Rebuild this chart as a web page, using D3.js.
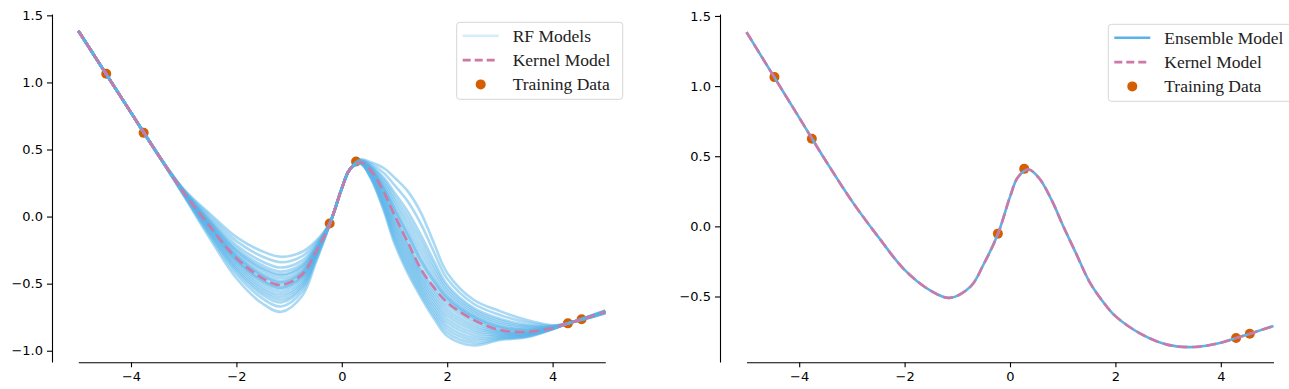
<!DOCTYPE html>
<html>
<head>
<meta charset="utf-8">
<script src="https://cdn.jsdelivr.net/npm/d3@7"></script>
<style>
  body { margin: 0; background: #fff; }
  svg { display: block; }
  .tick text { font-family: "DejaVu Sans", sans-serif; font-size: 13px; fill: #000; }
  .legend text { font-family: "Liberation Serif", serif; font-size: 17.5px; fill: #222; }
</style>
</head>
<body>
<svg width="1289" height="389"></svg>
<script>
// Shared x grid the curves were read at
const xGrid = [-5, -4.5, -4, -3.5, -3, -2.5, -2, -1.5, -1.15, -0.75, -0.5, -0.23, 0, 0.15, 0.35, 0.55, 0.8, 1.0, 1.25, 1.5, 1.75, 2, 2.5, 3, 3.5, 4, 4.3, 4.6, 5];

const kernelModel = [1.385, 1.08, 0.775, 0.47, 0.18, -0.075, -0.31, -0.46, -0.51, -0.43, -0.27, -0.055, 0.21, 0.35, 0.405, 0.345, 0.18, 0.01, -0.19, -0.39, -0.53, -0.64, -0.77, -0.845, -0.86, -0.83, -0.795, -0.76, -0.71];

const ensembleModel = [1.385, 1.08, 0.775, 0.47, 0.18, -0.075, -0.31, -0.46, -0.51, -0.43, -0.27, -0.055, 0.21, 0.35, 0.405, 0.345, 0.18, 0.01, -0.19, -0.39, -0.53, -0.64, -0.77, -0.845, -0.86, -0.83, -0.795, -0.76, -0.71];

// individual random-feature models (left panel)
const rfModels = [
  [1.385, 1.08, 0.775, 0.47, 0.205, 0.02, -0.153, -0.26, -0.30, -0.262, -0.186, -0.049, 0.21, 0.35, 0.402, 0.327, 0.138, -0.053, -0.259, -0.453, -0.599, -0.715, -0.827, -0.868, -0.872, -0.833, -0.795, -0.762, -0.713],
  [1.385, 1.08, 0.775, 0.47, 0.20, 0.002, -0.183, -0.299, -0.34, -0.294, -0.202, -0.05, 0.21, 0.35, 0.417, 0.381, 0.288, 0.178, 0.038, -0.138, -0.332, -0.508, -0.68, -0.761, -0.806, -0.818, -0.795, -0.757, -0.704],
  [1.385, 1.08, 0.775, 0.47, 0.196, -0.017, -0.213, -0.337, -0.38, -0.326, -0.218, -0.051, 0.21, 0.35, 0.40, 0.315, 0.11, -0.095, -0.305, -0.495, -0.645, -0.765, -0.865, -0.883, -0.88, -0.835, -0.795, -0.763, -0.715],
  [1.385, 1.08, 0.775, 0.47, 0.192, -0.03, -0.235, -0.365, -0.41, -0.35, -0.23, -0.052, 0.21, 0.35, 0.425, 0.405, 0.36, 0.29, 0.19, 0.03, -0.20, -0.42, -0.62, -0.705, -0.77, -0.81, -0.795, -0.755, -0.70],
  [1.385, 1.08, 0.775, 0.47, 0.188, -0.044, -0.258, -0.394, -0.44, -0.374, -0.242, -0.053, 0.21, 0.35, 0.409, 0.357, 0.216, 0.066, -0.114, -0.306, -0.464, -0.596, -0.74, -0.817, -0.842, -0.826, -0.795, -0.759, -0.708],
  [1.385, 1.08, 0.775, 0.47, 0.186, -0.053, -0.273, -0.413, -0.46, -0.39, -0.25, -0.054, 0.21, 0.35, 0.396, 0.291, 0.054, -0.179, -0.397, -0.579, -0.737, -0.865, -0.941, -0.913, -0.896, -0.839, -0.795, -0.765, -0.719],
  [1.385, 1.08, 0.775, 0.47, 0.184, -0.062, -0.288, -0.432, -0.48, -0.406, -0.258, -0.054, 0.21, 0.35, 0.413, 0.369, 0.252, 0.122, -0.038, -0.222, -0.398, -0.552, -0.71, -0.789, -0.824, -0.822, -0.795, -0.758, -0.706],
  [1.385, 1.08, 0.775, 0.47, 0.181, -0.07, -0.302, -0.45, -0.50, -0.422, -0.266, -0.055, 0.21, 0.35, 0.403, 0.333, 0.152, -0.032, -0.236, -0.432, -0.576, -0.69, -0.808, -0.86, -0.868, -0.832, -0.795, -0.761, -0.712],
  [1.385, 1.08, 0.775, 0.47, 0.179, -0.08, -0.318, -0.47, -0.52, -0.438, -0.274, -0.055, 0.21, 0.35, 0.421, 0.393, 0.324, 0.234, 0.114, -0.054, -0.266, -0.464, -0.65, -0.733, -0.788, -0.814, -0.795, -0.756, -0.702],
  [1.385, 1.08, 0.775, 0.47, 0.176, -0.089, -0.333, -0.489, -0.54, -0.454, -0.282, -0.056, 0.21, 0.35, 0.395, 0.285, 0.04, -0.20, -0.42, -0.60, -0.76, -0.89, -0.96, -0.92, -0.90, -0.84, -0.795, -0.765, -0.72],
  [1.385, 1.08, 0.775, 0.47, 0.174, -0.098, -0.348, -0.508, -0.56, -0.47, -0.29, -0.057, 0.21, 0.35, 0.407, 0.351, 0.198, 0.038, -0.152, -0.348, -0.497, -0.618, -0.755, -0.831, -0.851, -0.828, -0.795, -0.76, -0.709],
  [1.385, 1.08, 0.775, 0.47, 0.172, -0.107, -0.363, -0.527, -0.58, -0.486, -0.298, -0.057, 0.21, 0.35, 0.399, 0.309, 0.096, -0.116, -0.328, -0.516, -0.668, -0.79, -0.884, -0.89, -0.884, -0.836, -0.795, -0.763, -0.716],
  [1.385, 1.08, 0.775, 0.47, 0.169, -0.116, -0.378, -0.546, -0.60, -0.502, -0.306, -0.058, 0.21, 0.35, 0.415, 0.375, 0.27, 0.15, 0.0, -0.18, -0.365, -0.53, -0.695, -0.775, -0.815, -0.82, -0.795, -0.758, -0.705],
  [1.385, 1.08, 0.775, 0.47, 0.167, -0.125, -0.393, -0.565, -0.62, -0.518, -0.314, -0.058, 0.21, 0.35, 0.401, 0.321, 0.124, -0.074, -0.282, -0.474, -0.622, -0.74, -0.846, -0.875, -0.876, -0.834, -0.795, -0.762, -0.714],
  [1.385, 1.08, 0.775, 0.47, 0.164, -0.134, -0.408, -0.584, -0.64, -0.534, -0.322, -0.059, 0.21, 0.35, 0.411, 0.363, 0.234, 0.094, -0.076, -0.264, -0.431, -0.574, -0.725, -0.803, -0.833, -0.824, -0.795, -0.759, -0.707],
  [1.385, 1.08, 0.775, 0.47, 0.161, -0.147, -0.43, -0.612, -0.67, -0.558, -0.334, -0.06, 0.21, 0.35, 0.398, 0.303, 0.082, -0.137, -0.351, -0.537, -0.691, -0.815, -0.903, -0.898, -0.888, -0.837, -0.795, -0.764, -0.717],
  [1.385, 1.08, 0.775, 0.47, 0.156, -0.165, -0.46, -0.65, -0.71, -0.59, -0.35, -0.061, 0.21, 0.35, 0.405, 0.345, 0.18, 0.01, -0.19, -0.39, -0.53, -0.64, -0.77, -0.845, -0.86, -0.83, -0.795, -0.76, -0.71],
  [1.385, 1.08, 0.775, 0.47, 0.182, -0.066, -0.295, -0.441, -0.49, -0.414, -0.262, -0.054, 0.21, 0.35, 0.408, 0.354, 0.207, 0.052, -0.133, -0.327, -0.481, -0.607, -0.748, -0.824, -0.847, -0.827, -0.795, -0.759, -0.709],
  [1.385, 1.08, 0.775, 0.47, 0.178, -0.084, -0.325, -0.479, -0.53, -0.446, -0.278, -0.056, 0.21, 0.35, 0.404, 0.339, 0.166, -0.011, -0.213, -0.411, -0.553, -0.665, -0.789, -0.853, -0.864, -0.831, -0.795, -0.761, -0.711],
  [1.385, 1.08, 0.775, 0.47, 0.19, -0.039, -0.25, -0.384, -0.43, -0.366, -0.238, -0.053, 0.21, 0.35, 0.397, 0.297, 0.068, -0.158, -0.374, -0.558, -0.714, -0.84, -0.922, -0.905, -0.892, -0.838, -0.795, -0.764, -0.718]
];

const trainX = [-4.47, -3.76, -0.23, 0.27, 4.29, 4.55];
const trainY = [1.064, 0.624, -0.052, 0.41, -0.796, -0.766];

const xTicks = [-4, -2, 0, 2, 4];
const yTicksLeft = [-1, -0.5, 0, 0.5, 1, 1.5];
const yTicksRight = [-0.5, 0, 0.5, 1, 1.5];

const BLUE = '#56B4E9', PINK = '#CC79A7', ORANGE = '#D55E00';
const svg = d3.select('svg');
const minus = s => s.replace('-', '\u2212');
const fmtX = d => minus(d3.format('d')(d));
const fmtY = d => minus(d3.format('.1f')(d));

function panel(opt) {
  const x = d3.scaleLinear().domain([-5, 5]).range(opt.xr);
  const y = d3.scaleLinear().domain(opt.yd).range([362, 14]);
  const g = svg.append('g');
  g.append('g').attr('transform', `translate(0,362.3)`)
    .call(d3.axisBottom(x).tickValues(xTicks).tickSize(5).tickSizeOuter(0).tickPadding(4).tickFormat(fmtX));
  g.append('g').attr('transform', `translate(${opt.sx},0)`)
    .call(d3.axisLeft(y).tickValues(opt.yt).tickSize(5).tickSizeOuter(0).tickPadding(4).tickFormat(fmtY));
  g.selectAll('.domain, .tick line').attr('stroke', '#000').attr('stroke-width', 1.1);
  g.selectAll('.tick text').attr('font-size', null).attr('font-family', null);
  const line = d3.line().x((d, i) => x(xGrid[i])).y(d => y(d)).curve(d3.curveCatmullRom.alpha(0.5));
  // dots sit underneath the curves, as in the original
  g.selectAll('circle').data(trainX).join('circle')
    .attr('cx', d => x(d)).attr('cy', (d, i) => y(trainY[i])).attr('r', 5).attr('fill', ORANGE);
  return { g, x, y, line };
}

function legend(g, x0, y0, w, rows) {
  const lg = g.append('g').attr('class', 'legend');
  lg.append('rect').attr('x', x0).attr('y', y0).attr('width', w).attr('height', 77)
    .attr('rx', 3).attr('fill', 'rgba(255,255,255,0.8)').attr('stroke', '#d6d6d6');
  rows.forEach((r, i) => {
    const cy = y0 + 13.5 + i * 24.3;
    const hx = x0 + 6;
    if (r.type === 'dot') lg.append('circle').attr('cx', hx + 18).attr('cy', cy).attr('r', 5).attr('fill', ORANGE);
    else lg.append('line').attr('x1', hx).attr('x2', hx + 36).attr('y1', cy).attr('y2', cy)
      .attr('stroke', r.color).attr('stroke-width', 2.6).attr('stroke-opacity', r.op || 1)
      .attr('stroke-dasharray', r.dash || null);
    lg.append('text').attr('x', x0 + 56).attr('y', cy).attr('dy', '0.33em').text(r.label);
  });
}

// left: RF models vs kernel
const L = panel({ xr: [78.3, 605.3], yd: [-1.084, 1.51], sx: 52, yt: yTicksLeft });
L.g.append('g').selectAll('path').data(rfModels).join('path')
  .attr('d', L.line).attr('fill', 'none').attr('stroke', BLUE).attr('stroke-width', 2.6).attr('stroke-opacity', 0.5);
L.g.append('path').attr('d', L.line(kernelModel)).attr('fill', 'none').attr('stroke', PINK)
  .attr('stroke-width', 2.6).attr('stroke-dasharray', '10,4.5');
legend(L.g, 456.7, 22.3, 166, [
  { label: 'RF Models', color: BLUE, op: 0.25 },
  { label: 'Kernel Model', color: PINK, dash: '8,4' },
  { label: 'Training Data', type: 'dot' }
]);

// right: ensemble vs kernel
const R = panel({ xr: [746.5, 1273.5], yd: [-0.967, 1.514], sx: 720, yt: yTicksRight });
R.g.append('path').attr('d', R.line(ensembleModel)).attr('fill', 'none').attr('stroke', BLUE).attr('stroke-width', 2.6);
R.g.append('path').attr('d', R.line(kernelModel)).attr('fill', 'none').attr('stroke', PINK)
  .attr('stroke-width', 2.6).attr('stroke-dasharray', '10,4.5');
legend(R.g, 1108.3, 24.3, 184, [
  { label: 'Ensemble Model', color: BLUE },
  { label: 'Kernel Model', color: PINK, dash: '8,4' },
  { label: 'Training Data', type: 'dot' }
]);
</script>
</body>
</html>
